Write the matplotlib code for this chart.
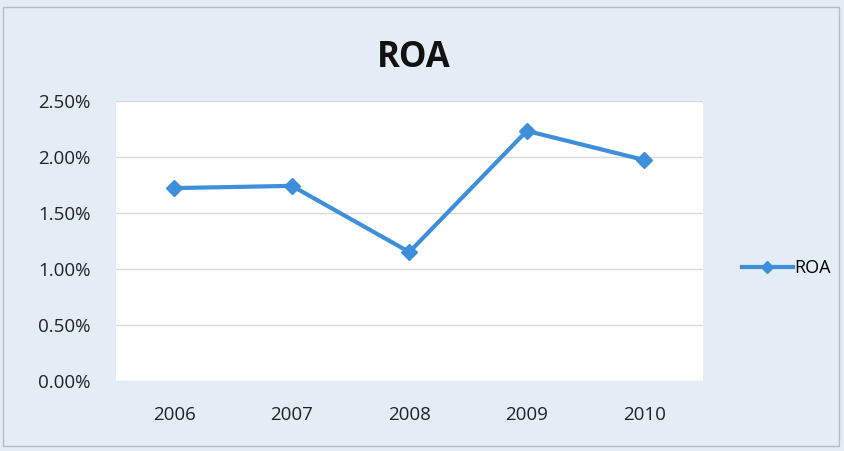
import matplotlib.pyplot as plt
from matplotlib.ticker import FuncFormatter

years = ['2006', '2007', '2008', '2009', '2010']
roa = [1.72, 1.74, 1.15, 2.23, 1.97]  # percent
y_ticks = [0.0, 0.5, 1.0, 1.5, 2.0, 2.5]

plt.rcParams['font.family'] = ['Open Sans', 'DejaVu Sans']

bg = '#e4ecf5'
blue = '#3d8fdc'

fig = plt.figure(figsize=(8.44, 4.51), dpi=100, facecolor=bg)
ax = fig.add_axes([0.137, 0.155, 0.696, 0.622])
ax.set_facecolor('white')

x = range(len(years))
ax.plot(x, roa, color=blue, lw=3, marker='D', ms=8.5, mec=blue, mfc=blue, label='ROA')

ax.set_xlim(-0.5, len(years) - 0.5)
ax.set_ylim(0, 2.5)
ax.set_yticks(y_ticks)
ax.yaxis.set_major_formatter(FuncFormatter(lambda v, p: f'{v:.2f}%'))
ax.set_xticks(list(x))
ax.set_xticklabels(years)
ax.tick_params(axis='both', length=0, labelsize=13.5, colors='#222222')
ax.tick_params(axis='x', pad=18)
ax.tick_params(axis='y', pad=18)
ax.grid(axis='y', color='#d9d9d9', lw=1)
ax.set_axisbelow(True)
for s in ax.spines.values():
    s.set_visible(False)

fig.text(0.49, 0.872, 'ROA', ha='center', va='center', fontsize=25, fontweight='bold', color='#111111')

fig.legend(loc='center left', bbox_to_anchor=(0.86, 0.405), frameon=False,
           fontsize=13, handlelength=2.8, handletextpad=0.1, markerscale=0.7)

# outer frame
fig.patches.append(plt.Rectangle((0.004, 0.01), 0.99, 0.975, transform=fig.transFigure,
                                 fill=False, ec='#b8bcc2', lw=1))

fig.savefig('out.png', dpi=100, facecolor=bg)
